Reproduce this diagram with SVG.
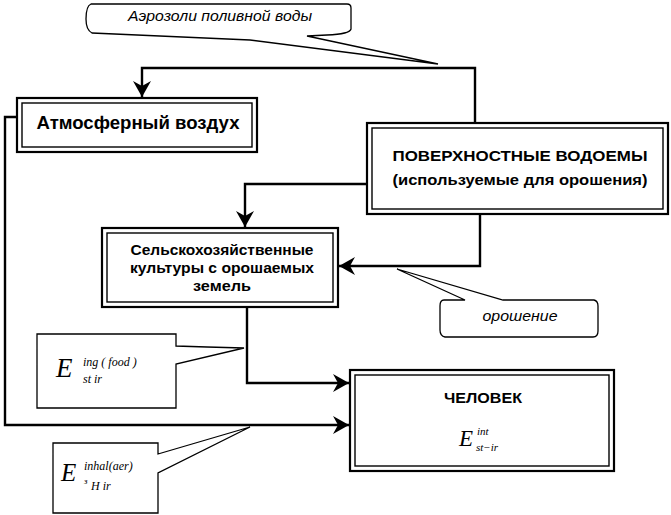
<svg xmlns="http://www.w3.org/2000/svg" width="671" height="515" viewBox="0 0 671 515">
<style>
.outer{fill:#fff;stroke:#000;stroke-width:2.2}
.inner{fill:none;stroke:#000;stroke-width:1.4}
.conn{fill:none;stroke:#000;stroke-width:2.4}
.callout{fill:#fff;stroke:#000;stroke-width:1.3;stroke-linejoin:miter}
.lbl{font-family:"Liberation Sans",Arial,sans-serif;font-weight:bold;fill:#000;text-anchor:middle}
.it{font-family:"Liberation Sans",Arial,sans-serif;font-style:italic;fill:#000;text-anchor:middle}
.m{font-family:"Liberation Serif","Times New Roman",serif;font-style:italic;fill:#000}
</style>
<defs>
<marker id="arr" markerUnits="userSpaceOnUse" markerWidth="20" markerHeight="20" viewBox="-1 -10 18 20" refX="16" refY="0" orient="auto">
<path d="M0,-9 L16,0 L0,9 L5,0 Z" fill="#000"/>
</marker>
</defs>

<g id="connectors">
<path class="conn" d="M475,123 L475,68 L142,68 L142,97" marker-end="url(#arr)"/>
<path class="conn" d="M17,117 L5,117 L5,425 L349,425" marker-end="url(#arr)"/>
<path class="conn" d="M367,184 L245,184 L245,227" marker-end="url(#arr)"/>
<path class="conn" d="M480,214 L480,266 L339,266" marker-end="url(#arr)"/>
<path class="conn" d="M247,307 L247,383 L349,383" marker-end="url(#arr)"/>
</g>

<g id="callout-aerosol">
<path class="callout" d="M91,4 L347,4 Q351,4 351,8 L351,29 Q350,34 327,35 L307,36 L438,64 L250,40 L92,33 Q86,30 86,19 Q86,6 91,4 Z"/>
<text class="it" x="220" y="21" font-size="14" textLength="184" lengthAdjust="spacingAndGlyphs">Аэрозоли поливной воды</text>
</g>

<g id="node-atmos">
<rect class="outer" x="17" y="98" width="240" height="54"/>
<rect class="inner" x="22" y="103" width="230" height="44"/>
<text class="lbl" x="138" y="129" font-size="18" textLength="203" lengthAdjust="spacingAndGlyphs">Атмосферный воздух</text>
</g>

<g id="node-water">
<rect class="outer" x="367" y="123" width="301" height="91"/>
<rect class="inner" x="372" y="128" width="291" height="81"/>
<text class="lbl" x="520" y="161" font-size="15" textLength="255" lengthAdjust="spacingAndGlyphs">ПОВЕРХНОСТНЫЕ ВОДОЕМЫ</text>
<text class="lbl" x="520" y="185" font-size="15" textLength="255" lengthAdjust="spacingAndGlyphs">(используемые для орошения)</text>
</g>

<g id="node-crops">
<rect class="outer" x="102" y="228" width="236" height="79"/>
<rect class="inner" x="107" y="233" width="226" height="69"/>
<text class="lbl" x="222" y="255" font-size="15" textLength="183" lengthAdjust="spacingAndGlyphs">Сельскохозяйственные</text>
<text class="lbl" x="222" y="273" font-size="15" textLength="184" lengthAdjust="spacingAndGlyphs">культуры с орошаемых</text>
<text class="lbl" x="222" y="291" font-size="15" textLength="58" lengthAdjust="spacingAndGlyphs">земель</text>
</g>

<g id="callout-irrigation">
<path class="callout" d="M444,300 L465,300 L397,269 L503,300 L594,300 Q598,301 598,306 L598,331 Q598,337 593,337 L445,337 Q440,336 440,330 L440,306 Q440,300 444,300 Z"/>
<text class="it" x="520" y="321" font-size="14" textLength="75" lengthAdjust="spacingAndGlyphs">орошение</text>
</g>

<g id="node-human">
<rect class="outer" x="350" y="370" width="264" height="101"/>
<rect class="inner" x="355" y="375" width="254" height="91"/>
<text class="lbl" x="483" y="403" font-size="15" textLength="78" lengthAdjust="spacingAndGlyphs">ЧЕЛОВЕК</text>
<text class="m" x="459" y="446" font-size="23">E</text>
<text class="m" x="477" y="435" font-size="11" font-style="normal">int</text>
<text class="m" x="476" y="451" font-size="11">st−ir</text>
</g>

<g id="callout-food">
<path class="callout" d="M37,334 L176,334 L176,346 L207,347 L244,348 L176,364 L176,408 L37,408 Z"/>
<text class="m" x="56" y="377" font-size="27">E</text>
<text class="m" x="83" y="366" font-size="12">ing ( food )</text>
<text class="m" x="83" y="383" font-size="12">st  ir</text>
</g>

<g id="callout-inhal">
<path class="callout" d="M53,443 L158,443 L158,454 L250,427 L158,473 L158,513 L53,513 Z"/>
<text class="m" x="61" y="481" font-size="25">E</text>
<text class="m" x="84" y="470" font-size="12">inhal(aer)</text>
<text class="m" x="84" y="484" font-size="9" font-style="normal">з</text>
<text class="m" x="91" y="490" font-size="12">H  ir</text>
</g>
</svg>
